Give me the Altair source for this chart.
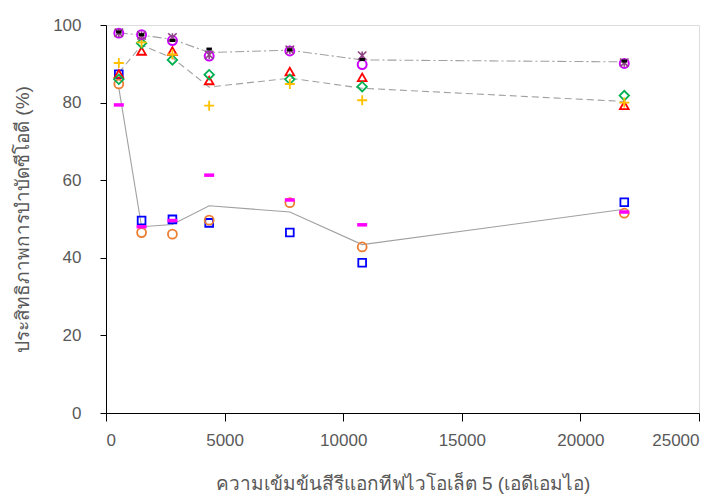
import altair as alt
import pandas as pd

# Dye concentration (ADMI) at each sampling point
conc = [540, 1500, 2800, 4350, 7750, 10800, 21850]

# COD removal efficiency (%) for each run
run_black = [98.2, 97.5, 96.0, 93.8, 93.6, 91.1, 90.7]
run_star = [98.0, 97.3, 96.8, 92.3, 93.6, 92.1, 90.3]
run_violet = [97.9, 97.5, 96.0, 92.0, 93.3, 89.8, 90.1]
run_red = [87.4, 93.3, 93.3, 85.7, 88.0, 86.5, 79.3]
run_green = [86.0, 95.3, 91.0, 87.2, 86.0, 84.1, 81.8]
run_gold = [90.2, 95.5, 92.4, 79.2, 84.8, 80.6, 80.0]
run_blue = [87.3, 49.6, 49.9, 49.0, 46.5, 38.7, 54.3]
run_orange = [84.8, 46.5, 46.1, 49.7, 54.2, 42.8, 51.5]
run_magenta = [79.4, 48.0, 49.6, 61.3, 54.9, 48.5, 51.8]

# Group trend lines
trend_top = [98.0, 97.4, 96.3, 92.9, 93.5, 91.0, 90.5]
trend_mid = [87.7, 94.8, 91.5, 84.0, 86.3, 83.7, 80.3]
trend_low = [83.8, 48.0, 48.6, 53.4, 51.8, 43.4, 52.5]

FONT = "Liberation Sans Narrow, Liberation Sans, Noto Sans"
GREY = "#595959"

x_enc = alt.X("x:Q", scale=alt.Scale(domain=[0, 25000], nice=False),
              axis=alt.Axis(values=[0, 5000, 10000, 15000, 20000, 25000], format="d",
                            title="ความเข้มข้นสีรีแอกทีฟไวโอเล็ต 5 (เอดีเอมไอ)",
                            grid=False, domainColor="#000000", tickColor="#000000",
                            tickSize=8, labelPadding=11, labelFontSize=17,
                            labelColor=GREY, titleFontSize=19, titleColor=GREY,
                            titleFontWeight="normal", titlePadding=26,
                            labelFont=FONT, titleFont=FONT))
y_enc = alt.Y("y:Q", scale=alt.Scale(domain=[0, 100], nice=False),
              axis=alt.Axis(values=[0, 20, 40, 60, 80, 100],
                            title="ประสิทธิภาพการบำบัดซีโอดี (%)",
                            grid=False, domainColor="#000000", tickColor="#000000",
                            tickSize=6, labelPadding=19, labelFontSize=17,
                            labelColor=GREY, titleFontSize=19, titleColor=GREY,
                            titleFontWeight="normal", titlePadding=20,
                            labelFont=FONT, titleFont=FONT))


def frame(values):
    return pd.DataFrame({"x": conc, "y": values})


def line(values, dash):
    kw = dict(color="#a0a0a0", strokeWidth=1.1)
    if dash:
        kw["strokeDash"] = dash
    return alt.Chart(frame(values)).mark_line(**kw).encode(x=x_enc, y=y_enc)


PLUS = "M-1,0L1,0M0,-1L0,1"
DASH = "M-1,0L1,0"
STAR = "M-1,-1L1,1M-1,1L1,-1M0,-1L0,1"

# (values, shape, colour, size, stroke width)
runs = [
    (run_blue, "square", "#0000ff", 60, 1.8),
    (run_orange, "circle", "#ed7d31", 80, 1.8),
    (run_magenta, DASH, "#ff00ff", 100, 3.5),
    (run_red, "triangle-up", "#ff0000", 75, 1.8),
    (run_green, "diamond", "#00b050", 90, 1.8),
    (run_gold, PLUS, "#ffc000", 100, 1.8),
    (run_violet, "circle", "#cc00ff", 80, 2.0),
    (run_star, STAR, "#8e4585", 70, 1.6),
    (run_black, DASH, "#000000", 30, 3.0),
]

layers = [line(trend_top, [9, 3, 2, 3]), line(trend_mid, [7, 4]), line(trend_low, None)]
for vals, shape, colour, size, sw in runs:
    layers.append(
        alt.Chart(frame(vals)).mark_point(
            shape=shape, filled=False, stroke=colour, color=colour,
            size=size, strokeWidth=sw, opacity=1
        ).encode(x=x_enc, y=y_enc)
    )

chart = alt.layer(*layers).properties(
    width=593, height=388,
    autosize=alt.AutoSizeParams(type="none"),
    padding={"left": 106, "top": 25, "right": 27, "bottom": 83},
).configure_view(stroke=None).configure(background="#ffffff")

chart.save("out.html", embed_options={"renderer": "svg", "actions": False})
